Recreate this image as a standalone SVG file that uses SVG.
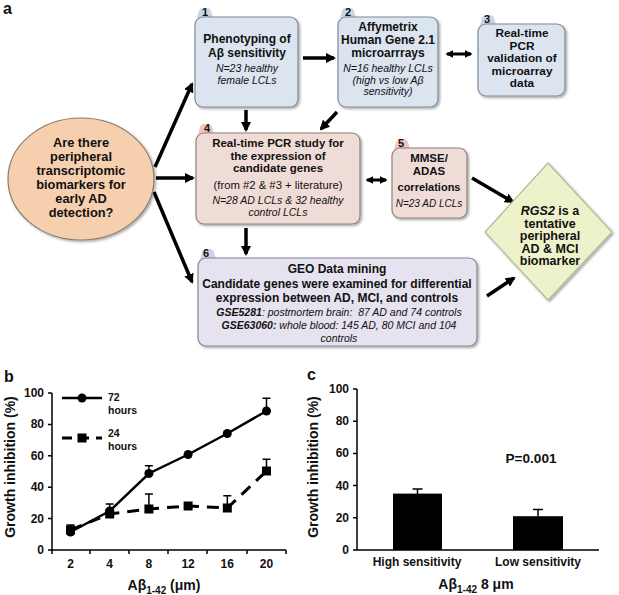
<svg xmlns="http://www.w3.org/2000/svg" width="619" height="595" viewBox="0 0 619 595">
<defs>
<style>
text{font-family:"Liberation Sans",Arial,sans-serif;fill:#111}
.t{font-weight:bold;font-size:12px;text-anchor:middle}
.i{font-style:italic;font-size:10.5px;text-anchor:middle}
.n{font-weight:bold;font-size:11px;text-anchor:middle}
.blue{fill:#dbe4ef;stroke:#7f8c99;stroke-width:1.2}
.bluetab{fill:#c8d6e6}
.pink{fill:#f0dcd7;stroke:#8f807c;stroke-width:1.2}
.pinktab{fill:#f3c5be}
.lav{fill:#e6e2ef;stroke:#888594;stroke-width:1.2}
.lavtab{fill:#d6d1e4}
.arr{stroke:#000;stroke-width:3.5;fill:none;marker-end:url(#ah)}
.darr{stroke:#000;stroke-width:3;fill:none;marker-end:url(#ah2);marker-start:url(#ah2)}
.ax{stroke:#000;stroke-width:1.5;fill:none}
.tl{font-weight:bold;font-size:12px}
.lab{font-weight:bold;font-size:14px}
.err{stroke:#000;stroke-width:1.5;fill:none}
</style>
<marker id="ah" viewBox="0 0 10 10" markerUnits="userSpaceOnUse" markerWidth="10" markerHeight="10" refX="8" refY="5" orient="auto"><path d="M0,0 L10,5 L0,10 z" fill="#000"/></marker>
<marker id="ah2" viewBox="0 0 10 10" markerUnits="userSpaceOnUse" markerWidth="8" markerHeight="8" refX="8" refY="5" orient="auto-start-reverse"><path d="M0,0 L10,5 L0,10 z" fill="#000"/></marker>
<filter id="sh" x="-10%" y="-10%" width="130%" height="130%"><feDropShadow dx="1.5" dy="1.5" stdDeviation="1.2" flood-color="#000" flood-opacity="0.35"/></filter>
</defs>
<rect width="619" height="595" fill="#fff"/>

<!-- Panel a -->
<text x="3" y="14" style="font-weight:bold;font-size:16px">a</text>

<g id="connectors">
<line class="arr" x1="155" y1="167" x2="192" y2="84"/>
<line class="arr" x1="156" y1="178" x2="193" y2="178"/>
<line class="arr" x1="154" y1="192" x2="192" y2="282"/>
<line class="arr" x1="303" y1="58" x2="334" y2="58"/>
<line class="arr" x1="246" y1="110" x2="246" y2="130"/>
<line class="arr" x1="337" y1="112" x2="321" y2="129"/>
<line class="darr" x1="447" y1="54" x2="471" y2="54"/>
<line class="darr" x1="367" y1="180" x2="386" y2="180"/>
<line class="arr" x1="246" y1="228" x2="246" y2="254"/>
<line class="arr" x1="472" y1="178" x2="513" y2="202"/>
<line class="arr" x1="487" y1="296" x2="514" y2="278"/>
</g>

<g id="start">
<ellipse cx="81" cy="179" rx="73" ry="61" fill="#f5cfae" stroke="#8c7b6b" stroke-width="1.2" filter="url(#sh)"/>
<text class="t" style="font-size:12.8px" x="81" y="147">Are there</text>
<text class="t" style="font-size:12.8px" x="81" y="161">peripheral</text>
<text class="t" style="font-size:12.8px" x="81" y="175">transcriptomic</text>
<text class="t" style="font-size:12.8px" x="81" y="189">biomarkers for</text>
<text class="t" style="font-size:12.8px" x="81" y="203">early AD</text>
<text class="t" style="font-size:12.8px" x="81" y="217">detection?</text>
</g>

<g id="node1">
<path class="bluetab" d="M197,18 L199,11 Q200,8 203,8 L207,8 Q210,8 211,11 L213,18 z"/>
<rect class="blue" x="195" y="17" width="103" height="90" rx="8" filter="url(#sh)"/>
<text class="n" x="205" y="16">1</text>
<text class="t" x="247" y="43">Phenotyping of</text>
<text class="t" x="247" y="57">Aβ sensitivity</text>
<text class="i" x="247" y="72">N=23 healthy</text>
<text class="i" x="247" y="84">female LCLs</text>
</g>

<g id="node2">
<path class="bluetab" d="M340,18 L342,11 Q343,8 346,8 L350,8 Q353,8 354,11 L356,18 z"/>
<rect class="blue" x="338" y="17" width="100" height="90" rx="8" filter="url(#sh)"/>
<text class="n" x="348" y="16">2</text>
<text class="t" x="388" y="31">Affymetrix</text>
<text class="t" x="388" y="44">Human Gene 2.1</text>
<text class="t" x="388" y="57">microarrrays</text>
<text class="i" x="388" y="72">N=16 healthy LCLs</text>
<text class="i" x="388" y="83.5">(high vs low Aβ</text>
<text class="i" x="388" y="95">sensitivity)</text>
</g>

<g id="node3">
<path class="bluetab" d="M480,25 L482,18 Q483,15 486,15 L490,15 Q493,15 494,18 L496,25 z"/>
<rect class="blue" x="478" y="24" width="87" height="72" rx="8" filter="url(#sh)"/>
<text class="n" x="487" y="23">3</text>
<text class="t" style="font-size:11.8px" x="522" y="37">Real-time</text>
<text class="t" style="font-size:11.8px" x="522" y="49.5">PCR</text>
<text class="t" style="font-size:11.8px" x="522" y="62">validation of</text>
<text class="t" style="font-size:11.8px" x="522" y="74.5">microarray</text>
<text class="t" style="font-size:11.8px" x="522" y="87">data</text>
</g>

<g id="node4">
<path class="pinktab" d="M198,134 L200,127 Q201,124 204,124 L208,124 Q211,124 212,127 L214,134 z"/>
<rect class="pink" x="196" y="133" width="164" height="91" rx="8" filter="url(#sh)"/>
<text class="n" x="207" y="132">4</text>
<text class="t" style="font-size:11.5px" x="278" y="147">Real-time PCR study for</text>
<text class="t" style="font-size:11.5px" x="278" y="159.5">the expression of</text>
<text class="t" style="font-size:11.5px" x="278" y="172">candidate genes</text>
<text x="278" y="189" style="font-size:11.3px;text-anchor:middle">(from #2 &amp; #3 + literature)</text>
<text class="i" x="278" y="204">N=28 AD LCLs &amp; 32 healthy</text>
<text class="i" x="278" y="216">control LCLs</text>
</g>

<g id="node5">
<path class="pinktab" d="M394,149 L396,142 Q397,139 400,139 L404,139 Q407,139 408,142 L410,149 z"/>
<rect class="pink" x="392" y="148" width="75" height="70" rx="8" filter="url(#sh)"/>
<text class="n" x="401" y="147">5</text>
<text class="t" style="font-size:11.5px" x="429" y="162">MMSE/</text>
<text class="t" style="font-size:11.5px" x="429" y="174.5">ADAS</text>
<text class="t" style="font-size:11px" x="429" y="191">correlations</text>
<text class="i" style="font-size:10px" x="429" y="207">N=23 AD LCLs</text>
</g>

<g id="node6">
<path class="lavtab" d="M200,259 L202,252 Q203,249 206,249 L210,249 Q213,249 214,252 L216,259 z"/>
<rect class="lav" x="198" y="258" width="279" height="88" rx="8" filter="url(#sh)"/>
<text class="n" x="206" y="257">6</text>
<text class="t" x="337" y="273">GEO Data mining</text>
<text class="t" x="337" y="288">Candidate genes were examined for differential</text>
<text class="t" x="337" y="302">expression between AD, MCI, and controls</text>
<text class="i" x="339" y="315.5"><tspan font-weight="bold">GSE5281</tspan>: postmortem brain: &#160;87 AD and 74 controls</text>
<text class="i" x="339" y="329"><tspan font-weight="bold">GSE63060:</tspan> whole blood: 145 AD, 80 MCI and 104</text>
<text class="i" x="339" y="342">controls</text>
</g>

<g id="result">
<polygon points="548,163 612,232 548,300 485,232" fill="#edf2cb" stroke="#b3ba98" stroke-width="1.2" filter="url(#sh)"/>
<text class="t" style="font-size:12.5px" x="550" y="215"><tspan font-style="italic">RGS2</tspan> is a</text>
<text class="t" style="font-size:12.5px" x="550" y="227.5">tentative</text>
<text class="t" style="font-size:12.5px" x="550" y="240">peripheral</text>
<text class="t" style="font-size:12.5px" x="550" y="252.5">AD &amp; MCI</text>
<text class="t" style="font-size:12.5px" x="550" y="265">biomarker</text>
</g>

<!-- Panel b -->
<g id="panel-b">
<text x="4" y="382" style="font-weight:bold;font-size:16px">b</text>
<path class="ax" d="M52,393 V550 H286"/>
<path class="ax" d="M48,393 H52 M48,424.4 H52 M48,455.8 H52 M48,487.2 H52 M48,518.6 H52 M48,550 H52"/>
<path class="ax" d="M52,550 V554 M90,550 V554 M129,550 V554 M168,550 V554 M207,550 V554 M247,550 V554 M286,550 V554"/>
<g class="tl" text-anchor="end">
<text x="44" y="397">100</text>
<text x="44" y="428.4">80</text>
<text x="44" y="459.8">60</text>
<text x="44" y="491.2">40</text>
<text x="44" y="522.6">20</text>
<text x="44" y="554">0</text>
</g>
<g class="tl" text-anchor="middle">
<text x="70.5" y="568">2</text>
<text x="109.7" y="568">4</text>
<text x="148.9" y="568">8</text>
<text x="188.1" y="568">12</text>
<text x="227.3" y="568">16</text>
<text x="266.5" y="568">20</text>
</g>
<text class="lab" transform="translate(15,467) rotate(-90)" text-anchor="middle">Growth inhibition (%)</text>
<text class="lab" x="164" y="590" text-anchor="middle">Aβ<tspan font-size="10" dy="4">1-42</tspan><tspan dy="-4"> (μm)</tspan></text>
<path class="err" d="M70.5,532 V525 M66.5,525 H74.5 M109.7,511 V504 M105.7,504 H113.7 M148.9,474 V465.7 M144.9,465.7 H152.9 M266.5,411 V398.3 M262.5,398.3 H270.5"/>
<path class="err" d="M148.9,509 V494 M144.9,494 H152.9 M227.3,508 V495.7 M223.3,495.7 H231.3 M266.5,471 V459.3 M262.5,459.3 H270.5 M70.5,530 V525"/>
<polyline points="70.5,530 109.7,514 148.9,509 188.1,506 227.3,508 266.5,471" fill="none" stroke="#000" stroke-width="3" stroke-dasharray="12,8"/>
<g fill="#000">
<rect x="66" y="525.5" width="9" height="9"/>
<rect x="105.2" y="509.5" width="9" height="9"/>
<rect x="144.4" y="504.5" width="9" height="9"/>
<rect x="183.6" y="501.5" width="9" height="9"/>
<rect x="222.8" y="503.5" width="9" height="9"/>
<rect x="262" y="466.5" width="9" height="9"/>
</g>
<polyline points="70.5,532 109.7,511 148.9,473.5 188.1,454.5 227.3,433.5 266.5,411" fill="none" stroke="#000" stroke-width="2.5"/>
<g fill="#000">
<circle cx="70.5" cy="532" r="4.5"/>
<circle cx="109.7" cy="511" r="4.5"/>
<circle cx="148.9" cy="473.5" r="4.5"/>
<circle cx="188.1" cy="454.5" r="4.5"/>
<circle cx="227.3" cy="433.5" r="4.5"/>
<circle cx="266.5" cy="411" r="4.5"/>
</g>
<line x1="62" y1="398" x2="102" y2="398" stroke="#000" stroke-width="2.5"/>
<circle cx="82" cy="398" r="4.5" fill="#000"/>
<text x="108" y="401" style="font-weight:bold;font-size:10.5px">72</text>
<text x="108" y="414" style="font-weight:bold;font-size:10.5px">hours</text>
<line x1="62" y1="438" x2="102" y2="438" stroke="#000" stroke-width="3" stroke-dasharray="10,7"/>
<rect x="77.5" y="433.5" width="9" height="9" fill="#000"/>
<text x="108" y="437" style="font-weight:bold;font-size:10.5px">24</text>
<text x="108" y="450" style="font-weight:bold;font-size:10.5px">hours</text>
</g>

<!-- Panel c -->
<g id="panel-c">
<text x="307" y="380" style="font-weight:bold;font-size:16px">c</text>
<path class="ax" d="M357,389 V550 H599"/>
<path class="ax" d="M353,389 H357 M353,421.2 H357 M353,453.4 H357 M353,485.6 H357 M353,517.8 H357 M353,550 H357"/>
<g class="tl" text-anchor="end">
<text x="349" y="393">100</text>
<text x="349" y="425.2">80</text>
<text x="349" y="457.4">60</text>
<text x="349" y="489.6">40</text>
<text x="349" y="521.8">20</text>
<text x="349" y="554">0</text>
</g>
<text class="lab" transform="translate(318,467) rotate(-90)" text-anchor="middle">Growth inhibition (%)</text>
<rect x="393" y="493.6" width="49" height="56.4" fill="#000"/>
<rect x="513" y="516.2" width="50" height="33.8" fill="#000"/>
<path class="err" d="M417.5,494 V489 M412.5,489 H422.5 M538,516 V509.5 M533,509.5 H543"/>
<text class="tl" x="417" y="566" text-anchor="middle">High sensitivity</text>
<text class="tl" x="538" y="566" text-anchor="middle">Low sensitivity</text>
<text x="531" y="463" text-anchor="middle" style="font-weight:bold;font-size:13.6px">P=0.001</text>
<text class="lab" x="476" y="589" text-anchor="middle">Aβ<tspan font-size="10" dy="4">1-42</tspan><tspan dy="-4"> 8 μm</tspan></text>
</g>
</svg>
